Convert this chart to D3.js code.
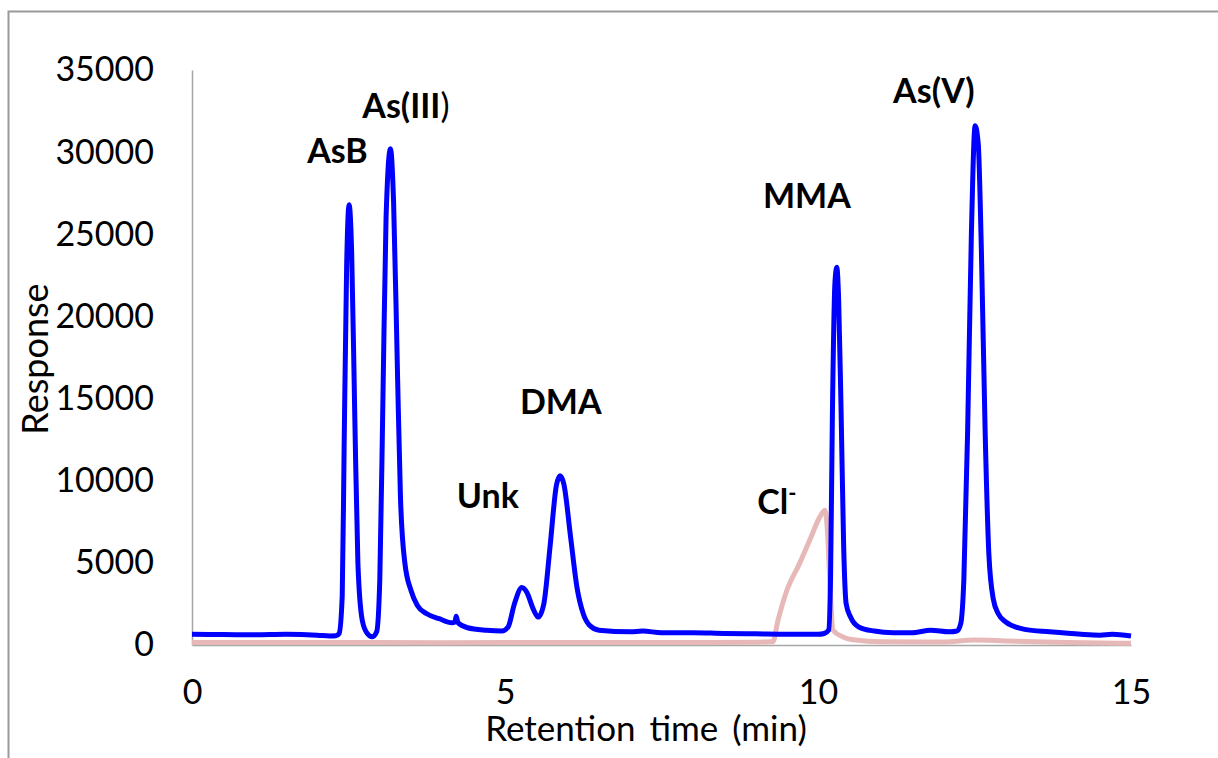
<!DOCTYPE html>
<html><head><meta charset="utf-8">
<script src="https://cdn.jsdelivr.net/npm/d3@7"></script>
<style>
html,body{margin:0;padding:0;background:#fff;}
text{font-family:Lato,"Open Sans",sans-serif;}
</style></head>
<body><svg id="c" width="1218" height="758"></svg>
<script>
// Data
const blueTime = [0,0.5,1,1.5,2.0,2.2,2.3,2.35,2.4,2.43,2.47,2.51,2.55,2.6,2.65,2.72,2.8,2.88,2.95,3.0,3.05,3.1,3.17,3.22,3.28,3.33,3.4,3.5,3.6,3.75,3.95,4.15,4.2,4.22,4.25,4.4,4.7,4.95,5.05,5.15,5.27,5.35,5.45,5.53,5.62,5.72,5.82,5.88,5.94,6.05,6.15,6.25,6.35,6.5,7,7.2,7.5,8,8.5,9,9.5,10.0,10.1,10.17,10.2,10.23,10.27,10.3,10.33,10.37,10.41,10.45,10.52,10.65,10.9,11.2,11.5,11.8,12.1,12.22,12.28,12.33,12.39,12.45,12.51,12.56,12.61,12.67,12.73,12.8,12.88,13.0,13.3,13.7,14.2,14.5,14.7,15];
const blueResp = [650,640,620,650,600,550,560,700,3000,12000,23000,26800,24000,14000,5000,1500,700,500,800,4000,15000,26000,30200,27000,17000,9000,5000,3300,2400,1900,1600,1350,1400,1750,1350,1050,900,850,1100,2500,3500,3200,2200,1700,2500,6000,9700,10300,9800,6500,3500,1900,1200,900,800,850,750,750,700,680,650,650,700,900,4000,14000,22000,23000,21000,14000,6000,2500,1700,1100,850,750,750,900,800,850,1300,4000,13000,25000,31600,30500,24000,13000,5500,2800,1900,1400,950,800,650,600,650,550];
const pinkTime = [0,2,4,6,8,9,9.2,9.28,9.36,9.5,9.71,9.87,10.03,10.11,10.15,10.19,10.24,10.4,10.6,11,12,12.5,13,14,15];
const pinkResp = [150,150,140,150,150,170,190,200,1500,3300,5000,6400,7800,8200,7000,3800,900,490,300,200,180,300,250,150,100];
const xTicks = [0,5,10,15];
const yTicks = [0,5000,10000,15000,20000,25000,30000,35000];
const labels = [
  {name:"AsB", t:1.84, v:29340},
  {name:"As(III", tail:")", t:2.72, v:32080},
  {name:"Unk", t:4.23, v:8340},
  {name:"DMA", t:5.24, v:14060},
  {name:"Cl", sup:"-", t:9.03, v:7970},
  {name:"MMA", t:9.12, v:26600},
  {name:"As(V)", t:11.2, v:32990}
];

const svg = d3.select("#c");
const x = d3.scaleLinear().domain([0,15]).range([192,1131]);
const y = d3.scaleLinear().domain([0,35000]).range([645,70]);

// outer frame
svg.append("rect").attr("x",8.5).attr("y",11.5).attr("width",1230).attr("height",780)
  .attr("fill","none").attr("stroke","#9a9a9a").attr("stroke-width",2);

// axes
const yAxis = svg.append("g").attr("transform","translate(192,0)")
  .call(d3.axisLeft(y).tickValues(yTicks).tickSize(0).tickPadding(38).tickFormat(d3.format("d")));
yAxis.select(".domain").attr("stroke","#a6a6a6").attr("stroke-width",1.5);
yAxis.selectAll("text").attr("font-size",34).attr("fill","#000").attr("font-family","Lato");

const xAxis = svg.append("g").attr("transform","translate(0,645)")
  .call(d3.axisBottom(x).tickValues(xTicks).tickSize(0).tickPadding(35).tickFormat(d3.format("d")));
xAxis.select(".domain").attr("stroke","#a6a6a6").attr("stroke-width",1.5);
xAxis.selectAll("text").attr("font-size",34).attr("fill","#000").attr("font-family","Lato");

// titles
svg.append("text").attr("x",646).attr("y",741).attr("text-anchor","middle")
  .attr("font-size",35).attr("word-spacing",5).text("Retention time (min)");
svg.append("text").attr("transform","translate(48,359) rotate(-90)").attr("text-anchor","middle")
  .attr("font-size",36).text("Response");

// lines
const pink = pinkTime.map((t,i)=>[t,pinkResp[i]]);
const blue = blueTime.map((t,i)=>[t,blueResp[i]]);
const line = d3.line().x(d=>x(d[0])).y(d=>y(d[1])).curve(d3.curveMonotoneX);
svg.append("path").datum(pink).attr("d",line).attr("fill","none")
  .attr("stroke","#e6b9b8").attr("stroke-width",5).attr("stroke-linejoin","round");
svg.append("path").datum(blue).attr("d",line).attr("fill","none")
  .attr("stroke","#0000ff").attr("stroke-width",5).attr("stroke-linejoin","round");

// peak labels
labels.forEach(l=>{
  const t = svg.append("text").attr("x",x(l.t)).attr("y",y(l.v))
    .attr("font-size",34).attr("font-weight","bold");
  t.append("tspan").text(l.name);
  if(l.tail) t.append("tspan").attr("font-weight","normal").text(l.tail);
  if(l.sup) t.append("tspan").attr("dy",-13).attr("font-size",22).text(l.sup);
});
</script></body></html>
